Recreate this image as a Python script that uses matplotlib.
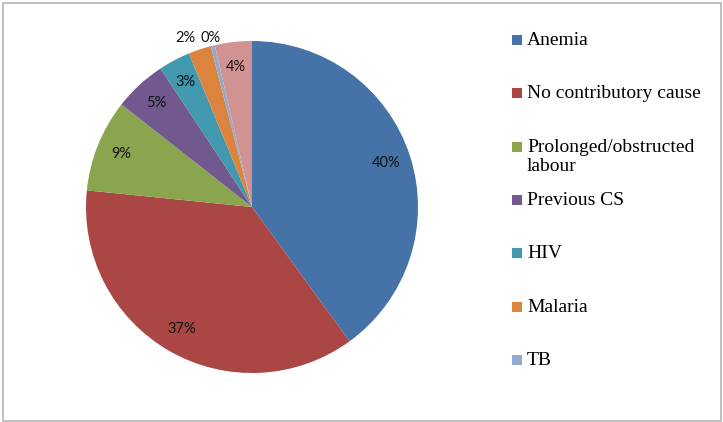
import numpy as np
import matplotlib.pyplot as plt
from matplotlib.patches import Rectangle

# DATA

causes = ["Anemia", "No contributory cause", "Prolonged/obstructed\nlabour",
          "Previous CS", "HIV", "Malaria", "TB", "Other"]
shares = [40.0, 36.6, 9.0, 5.1, 3.1, 2.2, 0.4, 3.6]
colors = ["#4572A7", "#AA4643", "#89A54E", "#71588F",
          "#4198AF", "#DB843D", "#93A9CF", "#D19392"]
legend_count = 7

W, H = 723, 422
fig = plt.figure(figsize=(W / 100, H / 100), dpi=100)

# PIE

ax = fig.add_axes([86 / W, 49 / H, 332 / W, 332 / H])
wedges, texts, autotexts = ax.pie(
    shares, colors=colors, startangle=90, counterclock=False,
    autopct="%.0f%%", pctdistance=0.85,
    textprops={"family": "Lato", "fontsize": 10.5, "color": "#111111"},
    wedgeprops={"linewidth": 0})
ax.set_xlim(-1, 1)
ax.set_ylim(-1, 1)
ax.set_aspect("equal")

# the two tiny slices get their labels outside (Excel best fit)
autotexts[5].set_position((-0.40, 1.02))
autotexts[6].set_position((-0.25, 1.02))

# LEGEND

y0, step = 40, 53.3
for i in range(legend_count):
    y = y0 + i * step
    fig.patches.append(Rectangle((512 / W, 1 - (y + 5) / H), 10 / W, 10 / H,
                                 transform=fig.transFigure,
                                 facecolor=colors[i], edgecolor="none"))
    fig.text(527 / W, 1 - (y - 8) / H, causes[i], family="Liberation Serif",
             fontsize=14, va="top", ha="left", linespacing=1.2)

# frame around the chart
fig.patches.append(Rectangle((2.5 / W, 1.5 / H), 1 - 4.5 / W, 1 - 4 / H,
                             transform=fig.transFigure, fill=False,
                             edgecolor="#b4b4b4", linewidth=1.2))

fig.savefig("out.png", dpi=100)
